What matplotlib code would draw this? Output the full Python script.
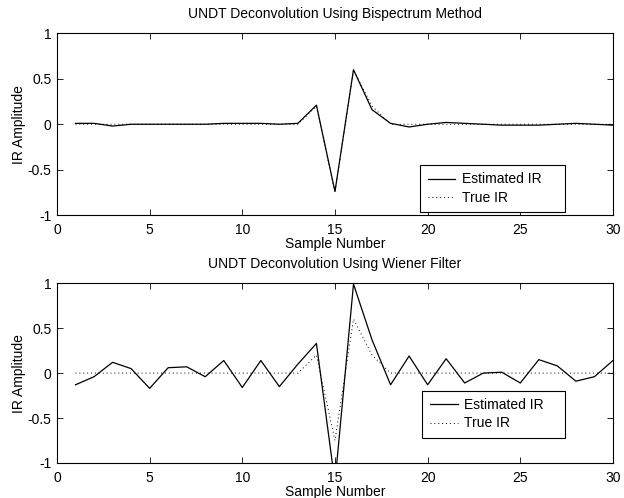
import numpy as np
import matplotlib
matplotlib.use('Agg')
import matplotlib.pyplot as plt

plt.rcParams['font.family'] = ['Liberation Sans', 'DejaVu Sans']
plt.rcParams['font.size'] = 10
plt.rcParams['axes.unicode_minus'] = False

samples = np.arange(1, 31)

# bispectrum estimate (top)
est_bispec = [0.01, 0.01, -0.02, 0.0, 0.0, 0.0, 0.0, 0.0, 0.01, 0.01,
              0.01, 0.0, 0.01, 0.21, -0.74, 0.60, 0.16, 0.01, -0.03, 0.0,
              0.02, 0.01, 0.0, -0.01, -0.01, -0.01, 0.0, 0.01, 0.0, -0.01]

# wiener filter estimate (bottom)
est_wiener = [-0.13, -0.04, 0.12, 0.05, -0.17, 0.06, 0.07, -0.04, 0.14, -0.16,
              0.14, -0.15, 0.10, 0.33, -1.22, 0.99, 0.37, -0.13, 0.19, -0.13,
              0.16, -0.11, 0.0, 0.01, -0.11, 0.15, 0.08, -0.09, -0.04, 0.14]

true_ir = [0.0, 0.0, 0.0, 0.0, 0.0, 0.0, 0.0, 0.0, 0.0, 0.0,
           0.0, 0.0, 0.0, 0.20, -0.75, 0.60, 0.20, 0.0, 0.0, 0.0,
           0.0, 0.0, 0.0, 0.0, 0.0, 0.0, 0.0, 0.0, 0.0, 0.0]

titles = ['UNDT Deconvolution Using Bispectrum Method',
          'UNDT Deconvolution Using Wiener Filter']
yticks = [-1, -0.5, 0, 0.5, 1]
ytick_labels = ['-1', '-0.5', '0', '0.5', '1']

fig = plt.figure(figsize=(6.24, 4.98), dpi=100)
ax1 = fig.add_axes([0.0913, 0.568, 0.891, 0.365])
ax2 = fig.add_axes([0.0913, 0.0703, 0.891, 0.361])

legend_box = [(0.653, 0.016, 0.261, 0.25), (0.657, 0.139, 0.257, 0.25)]

for ax, est, title, lbox in zip([ax1, ax2], [est_bispec, est_wiener], titles, legend_box):
    ax.plot(samples, est, color='k', lw=0.9, ls='-', label='Estimated IR')
    ax.plot(samples, true_ir, color='k', lw=0.7, ls=(0, (1, 3)), label='True IR')
    ax.set_xlim(0, 30)
    ax.set_ylim(-1, 1)
    ax.set_xticks(range(0, 31, 5))
    ax.set_yticks(yticks)
    ax.set_yticklabels(ytick_labels)
    ax.tick_params(direction='in', top=True, right=True, length=4, width=0.6)
    ax.tick_params(axis='x', pad=6)
    ax.tick_params(axis='y', pad=4)
    for s in ax.spines.values():
        s.set_linewidth(0.8)
    ax.set_title(title, fontsize=10, pad=11)
    ax.set_xlabel('Sample Number', labelpad=0)
    ax.set_ylabel('IR Amplitude', labelpad=1)
    leg = ax.legend(loc='lower left', bbox_to_anchor=lbox, mode='expand',
                    fancybox=False, edgecolor='k', framealpha=1, fontsize=10,
                    handlelength=2.0, borderpad=0.55, labelspacing=0.3,
                    handletextpad=0.45, borderaxespad=0)
    leg.get_frame().set_linewidth(0.8)

fig.savefig('out.png', dpi=100)
